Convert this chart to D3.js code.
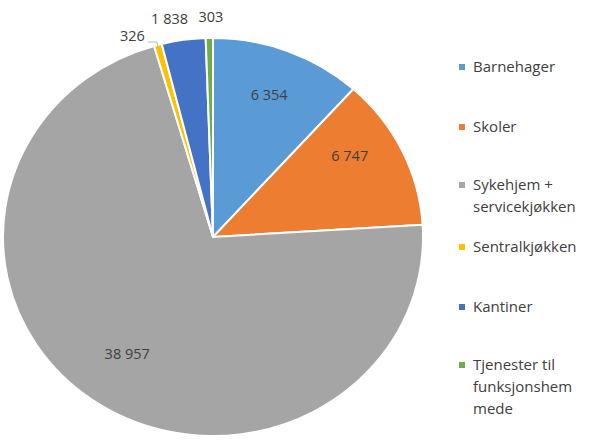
<!DOCTYPE html>
<html><head><meta charset="utf-8">
<script src="https://cdn.jsdelivr.net/npm/d3@7"></script>
<style>
html,body{margin:0;padding:0;background:#fff;}
svg{display:block;font-family:"Open Sans",sans-serif;}
</style></head>
<body>
<svg id="c" width="589" height="440"></svg>
<script>
const categories = ["Barnehager","Skoler","Sykehjem + servicekjøkken","Sentralkjøkken","Kantiner","Tjenester til funksjonshemmede"];
const values = [6354, 6747, 38957, 326, 1838, 303];
const valueLabels = ["6 354","6 747","38 957","326","1 838","303"];
const legendLines = [["Barnehager"],["Skoler"],["Sykehjem +","servicekjøkken"],["Sentralkjøkken"],["Kantiner"],["Tjenester til","funksjonshem","mede"]];
const colors = ["#5B9BD5","#ED7D31","#A5A5A5","#FFC000","#4472C4","#70AD47"];

const svg = d3.select("#c");
const cx = 213, cy = 237, R = 199, sx = 210/199;
const pie = d3.pie().sort(null).value(d=>d)(values);
const arc = d3.arc().innerRadius(0).outerRadius(R);
const g = svg.append("g").attr("transform",`translate(${cx},${cy}) scale(${sx},1)`);
g.selectAll("path").data(pie).join("path")
  .attr("d",arc).attr("fill",(d,i)=>colors[i])
  .attr("stroke","#fff").attr("stroke-width",2).attr("vector-effect","non-scaling-stroke");

// labels
const inArc = d3.arc().innerRadius(R*0.76).outerRadius(R*0.76);
const outArc = d3.arc().innerRadius(R*1.1).outerRadius(R*1.1);
const outside = [false,false,false,true,true,true];
const nudge = [[-1,-1],[-7,-15],[6,-7],[-20,10],[-11,-1],[2,-1]];
const lab = svg.append("g").attr("font-size",14.5).attr("fill","#404040");
pie.forEach((d,i)=>{
  const c = (outside[i]?outArc:inArc).centroid(d);
  const x = cx + c[0]*sx + nudge[i][0], y = cy + c[1] + nudge[i][1];
  lab.append("text").attr("x",x).attr("y",y).attr("dy","0.35em")
    .attr("text-anchor","middle").text(valueLabels[i]);
});
// leader line for small slice (index 3)
{
  const d = pie[3];
  const a = (d.startAngle+d.endAngle)/2;
  const ex = cx + Math.sin(a)*R*sx, ey = cy - Math.cos(a)*R;
  svg.append("polyline").attr("points",`${ex-10},${ey-3} ${ex-1},${ey-3} ${ex},${ey+2}`)
    .attr("fill","none").attr("stroke","#A6A6A6").attr("stroke-width",0.8);
}

// legend
const legY = [67,127,185,247,307,365];
const lg = svg.append("g").attr("font-size",15).attr("fill","#404040");
legendLines.forEach((lines,i)=>{
  lg.append("rect").attr("x",459).attr("y",legY[i]-3).attr("width",6).attr("height",6).attr("fill",colors[i]);
  lines.forEach((t,j)=>{
    lg.append("text").attr("x",473).attr("y",legY[i]+j*22).attr("dy","0.35em").text(t);
  });
});
</script>
</body></html>
